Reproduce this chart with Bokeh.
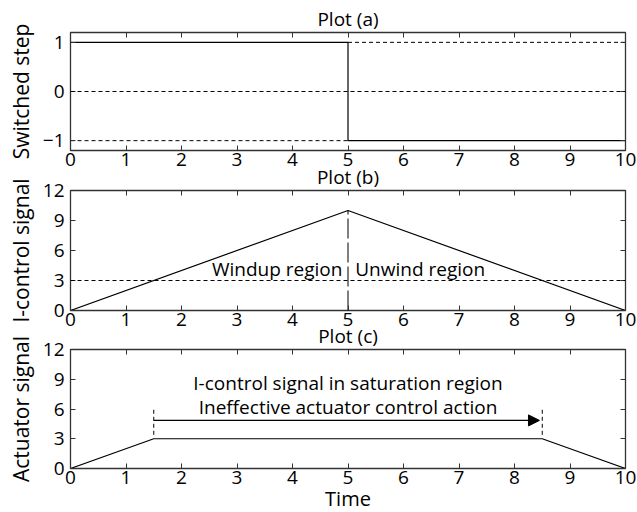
from bokeh.plotting import figure
from bokeh.layouts import column
from bokeh.models import (LinearAxis, FixedTicker, Span, Arrow, NormalHead,
                          ColumnDataSource, Range1d)
from bokeh.core.properties import value
from bokeh.embed import file_html
from bokeh.resources import INLINE

# ---------------- data ----------------
time_ticks = list(range(0, 11))

# Plot (a): switched step
step_t = [0, 5, 5, 10]
step_y = [1, 1, -1, -1]
step_ticks = [-1, 0, 1]
step_upper_ref_t = [5, 10]      # dashed +1 after the switch
step_lower_ref_t = [0, 5]       # dashed -1 before the switch
switch_time = 5

# Plot (b): integral control signal
int_t = [0, 5, 10]
int_y = [0, 10, 0]
sat_level = 3
sig_ticks = [0, 3, 6, 9, 12]
region_labels = ["Windup region", "Unwind region"]
region_label_x = [4.9, 5.13]
region_label_y = [4.2, 4.2]

# Plot (c): actuator signal
act_t = [0, 1.5, 8.5, 10]
act_y = [0, 3, 3, 0]
marker_t = [1.5, 8.5]
marker_lo = 3.4
marker_hi = 6.0
arrow_start = 1.5
arrow_end = 8.45
arrow_y = 4.85
note_lines = ["I-control signal in saturation region",
              "Ineffective actuator control action"]
note_x = [5.0, 5.0]
note_y = [8.6, 6.25]

titles = ["Plot (a)", "Plot (b)", "Plot (c)"]
ylabels = ["Switched step", "I-control signal", "Actuator signal"]

FONT = "Open Sans"
TICK_FS = "19px"
LABEL_FS = "21px"
XLABEL_FS = "20px"
EDGE = "#333333"


def make_fig(title, frame_h, yr, yticks, ylabel, top, bottom, xlabel=None,
             overrides=None, margin_top=0):
    p = figure(frame_width=555, frame_height=frame_h,
               x_range=Range1d(0, 10), y_range=Range1d(*yr),
               output_backend="svg", toolbar_location=None,
               min_border_left=70, min_border_right=12,
               min_border_top=top, min_border_bottom=bottom,
               background_fill_color="white", border_fill_color=None,
               margin=(margin_top, 0, 0, 0))
    p.title.text = title
    p.title.align = "center"
    p.title.text_font = FONT
    p.title.text_font_size = TICK_FS
    p.title.text_font_style = "normal"
    p.title.text_color = "black"
    p.title.standoff = 1
    p.grid.visible = False
    p.outline_line_color = EDGE
    p.outline_line_width = 1.3

    xa = p.xaxis[0]
    xa.ticker = FixedTicker(ticks=time_ticks)
    ya = p.yaxis[0]
    ya.ticker = FixedTicker(ticks=yticks)
    if overrides:
        ya.major_label_overrides = overrides
    for ax in (xa, ya):
        ax.axis_line_color = None
        ax.major_tick_in = 5
        ax.major_tick_out = 0
        ax.minor_tick_line_color = None
        ax.major_tick_line_color = EDGE
        ax.major_label_text_font = FONT
        ax.major_label_text_font_size = TICK_FS
        ax.major_label_text_color = "black"
        ax.axis_label_text_font = FONT
        ax.axis_label_text_font_style = "normal"
        ax.axis_label_text_font_size = LABEL_FS
        ax.axis_label_text_color = "black"
    xa.major_label_standoff = 2
    ya.major_label_standoff = 6
    ya.axis_label = ylabel
    ya.axis_label_standoff = 5
    if xlabel:
        xa.axis_label = xlabel
        xa.axis_label_text_font_size = XLABEL_FS
        xa.axis_label_standoff = -2

    for loc, tk in (("above", time_ticks), ("right", yticks)):
        ax = LinearAxis(ticker=FixedTicker(ticks=tk))
        ax.axis_line_color = None
        ax.major_tick_in = 5
        ax.major_tick_out = 0
        ax.minor_tick_line_color = None
        ax.major_tick_line_color = EDGE
        ax.major_label_text_font_size = "0px"
        ax.major_label_text_color = None
        ax.major_label_standoff = 0
        p.add_layout(ax, loc)
    return p


# ---------------- plot (a) ----------------
pa = make_fig(titles[0], 118, (-1.2, 1.2), step_ticks, ylabels[0], 32, 26,
              overrides={-1: "\u22121"})
pa.add_layout(Span(location=0, dimension="width", line_color="black",
                   line_dash="4 3", line_width=1))
pa.line(step_upper_ref_t, [step_y[0]] * 2, line_color="black", line_dash="4 3", line_width=1)
pa.line(step_lower_ref_t, [step_y[-1]] * 2, line_color="black", line_dash="4 3", line_width=1)
pa.line(step_t, step_y, line_color="black", line_width=1.2)

# ---------------- plot (b) ----------------
pb = make_fig(titles[1], 120, (0, 12), sig_ticks, ylabels[1], 32, 26, margin_top=-18)
pb.add_layout(Span(location=sat_level, dimension="width", line_color="black",
                   line_dash="4 3", line_width=1))
pb.segment(x0=[switch_time], y0=[0], x1=[switch_time], y1=[max(int_y)],
           line_color="black", line_dash="20 4", line_width=1)
pb.line(int_t, int_y, line_color="black", line_width=1.2)
src_b = ColumnDataSource(dict(x=region_label_x, y=region_label_y, t=region_labels,
                              a=["right", "left"]))
pb.text(x="x", y="y", text="t", text_align="a", source=src_b,
        text_baseline="middle", text_font=value(FONT), text_font_size=TICK_FS,
        text_color="black")

# ---------------- plot (c) ----------------
pc = make_fig(titles[2], 119, (0, 12), sig_ticks, ylabels[2], 32, 44, xlabel="Time",
              margin_top=-19)
pc.segment(x0=marker_t, y0=[marker_lo] * 2, x1=marker_t, y1=[marker_hi] * 2,
           line_color="black", line_dash="4 3", line_width=1)
pc.line(act_t, act_y, line_color="black", line_width=1.2)
pc.add_layout(Arrow(x_start=arrow_start, y_start=arrow_y, x_end=arrow_end, y_end=arrow_y,
                    line_color="black", line_width=1.2,
                    end=NormalHead(size=11, fill_color="black", line_color="black")))
pc.text(x=note_x, y=note_y, text=note_lines, text_align="center",
        text_baseline="middle", text_font=value(FONT), text_font_size=TICK_FS,
        text_color="black")

layout = column(pa, pb, pc, spacing=0)
open("out.html", "w").write(file_html(layout, INLINE))
